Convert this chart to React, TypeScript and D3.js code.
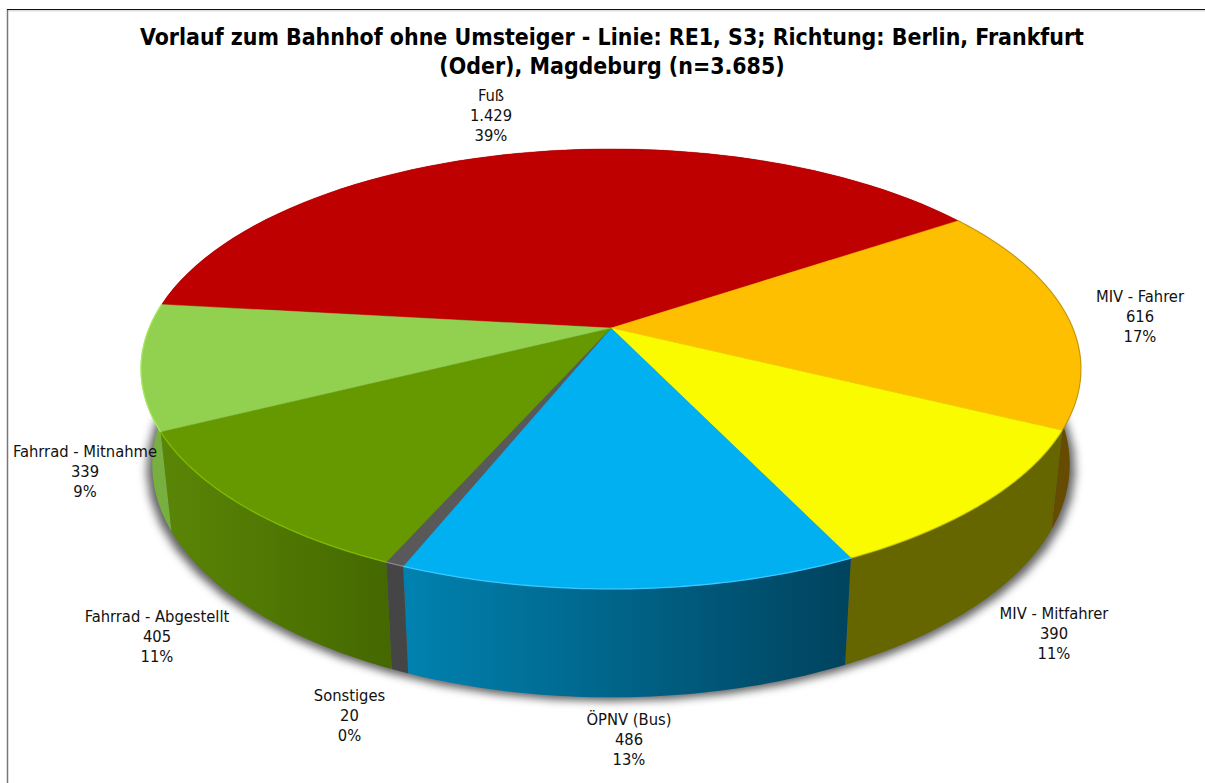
import React from "react";
import * as d3 from "d3";

const categories = ["Fuß", "MIV - Fahrer", "MIV - Mitfahrer", "ÖPNV (Bus)", "Sonstiges", "Fahrrad - Abgestellt", "Fahrrad - Mitnahme"];
const values = [1429, 616, 390, 486, 20, 405, 339];
const valueLabels = ["1.429", "616", "390", "486", "20", "405", "339"];
const percentLabels = ["39%", "17%", "11%", "13%", "0%", "11%", "9%"];
const topColors = ["#bf0000", "#fdbf00", "#fbfb00", "#00b0f0", "#595959", "#669900", "#92d050"];
const rimColors = ["#bf000000", "#a8800088", "#b8b80088", "#38c8ff", "#858585", "#80bb00", "#a8e860"];
const sideLeft = ["#730000", "#664c00", "#666600", "#0082b0", "#454545", "#5a8606", "#78b040"];
const sideRight = ["#730000", "#664c00", "#666600", "#00435e", "#454545", "#456800", "#78b040"];
const labelX = [491, 1140, 1054, 629, 349.5, 157, 85];
const labelY = [101, 302, 619, 725, 701, 622, 457];
const titleLines = ["Vorlauf zum Bahnhof ohne Umsteiger - Linie: RE1, S3; Richtung: Berlin, Frankfurt", "(Oder), Magdeburg (n=3.685)"];

const W = 1205, H = 783;
const X0 = 611, Y0 = 328, A = 461.8, B = 212.4, K = 0.186;
const startDeg = -83.5;
const sx = 0.976, sy = 1.058, Yb = 421.3;

const toTop = (a: number): [number, number] => {
  const u = Math.sin(a), v = -Math.cos(a), w = 1 / (1 - K * v);
  return [X0 + A * u * w, Y0 + B * v * w];
};
const toBottom = (a: number): [number, number] => {
  const [x, y] = toTop(a);
  return [X0 + sx * (x - X0), Yb + sy * (y - Y0)];
};

const start = (startDeg * Math.PI) / 180;
const arcs = d3.pie<number>().sort(null).startAngle(start).endAngle(start + 2 * Math.PI)(values);
const line = d3.line();
const samples = (a0: number, a1: number) => d3.range(0, 61).map((i) => a0 + ((a1 - a0) * i) / 60);
const topPath = (a0: number, a1: number) => line([[X0, Y0], ...samples(a0, a1).map(toTop)]) + "Z";
const wallPath = (a0: number, a1: number) =>
  line([...samples(a0, a1).map(toTop), ...samples(a0, a1).reverse().map(toBottom)]) + "Z";
const rimPath = (a0: number, a1: number) => line(samples(a0, a1).map(toTop)) || "";
const fullBottom = line(samples(0, 2 * Math.PI).map(toBottom)) + "Z";
const font = "'DejaVu Sans Condensed', 'DejaVu Sans', sans-serif";

export default function App() {
  return (
    <svg width={W} height={H} style={{ position: "absolute", left: 0, top: 0, background: "#fff" }}>
      <defs>
        <filter id="sh" x="-10%" y="-10%" width="120%" height="120%">
          <feGaussianBlur stdDeviation="4.5" />
        </filter>
        <filter id="soft" x="-5%" y="-5%" width="110%" height="110%">
          <feGaussianBlur stdDeviation="0.5" />
        </filter>
        {arcs.map((d, i) => {
          const x0 = toTop(d.startAngle)[0];
          const x1 = toTop(d.endAngle)[0];
          return (
            <linearGradient key={i} id={`g${i}`} gradientUnits="userSpaceOnUse" x1={Math.min(x0, x1)} x2={Math.max(x0, x1)} y1={0} y2={0}>
              <stop offset="0" stopColor={sideLeft[i]} />
              <stop offset="1" stopColor={sideRight[i]} />
            </linearGradient>
          );
        })}
      </defs>
      <path d="M7.5 783V9" fill="none" stroke="#777" strokeWidth={1.5} />
      <path d="M7 9.5H1205" fill="none" stroke="#111" strokeWidth={1.2} />
      <path d="M8 10.8H1205" fill="none" stroke="#ccc" strokeWidth={1} />
      <path d={fullBottom} transform={`translate(${X0},4) scale(1.012,1) translate(${-X0},0)`} fill="#000" fillOpacity={0.62} filter="url(#sh)" />
      {arcs.map((d, i) => (
        <path key={i} d={wallPath(d.startAngle, d.endAngle)} fill={`url(#g${i})`} />
      ))}
      {arcs.map((d, i) => (
        <path key={i} d={topPath(d.startAngle, d.endAngle)} fill={topColors[i]} stroke={topColors[i]} strokeWidth={0.4} />
      ))}
      {arcs.map((d, i) => (
        <path key={i} d={rimPath(d.startAngle, d.endAngle)} fill="none" stroke={rimColors[i]} strokeWidth={1.3} filter="url(#soft)" />
      ))}
      {titleLines.map((t, i) => (
        <text key={i} x={612} y={45 + i * 29} textAnchor="middle" fontFamily={font} fontWeight="bold" fontSize={22.9} fill="#000">{t}</text>
      ))}
      {categories.map((c, i) => (
        <text key={c} textAnchor="middle" fontFamily={font} fontSize={16.4} fill="#111">
          <tspan x={labelX[i]} y={labelY[i]}>{c}</tspan>
          <tspan x={labelX[i]} y={labelY[i] + 20}>{valueLabels[i]}</tspan>
          <tspan x={labelX[i]} y={labelY[i] + 40}>{percentLabels[i]}</tspan>
        </text>
      ))}
    </svg>
  );
}
